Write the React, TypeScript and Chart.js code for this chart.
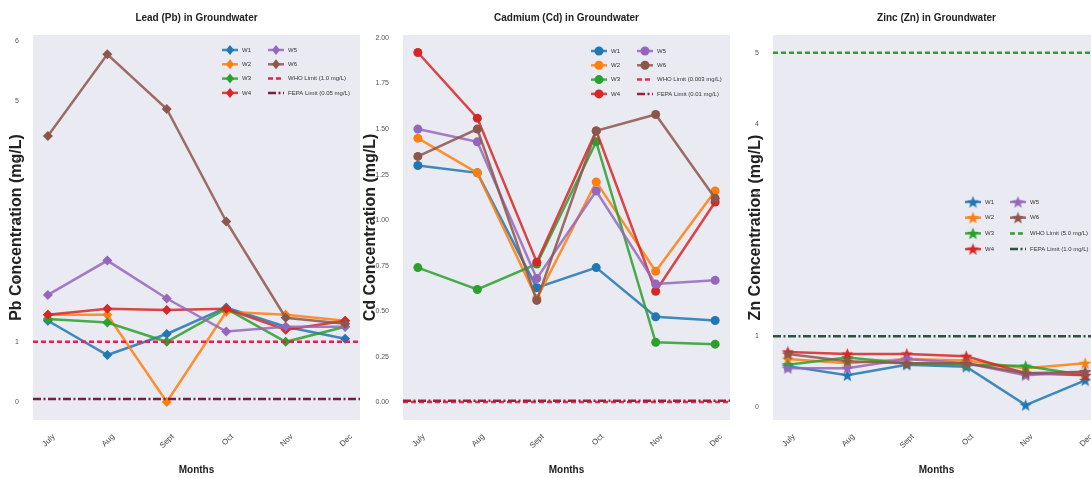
import React, { useEffect, useRef } from 'react';
import { Chart, registerables } from 'chart.js';
Chart.register(...registerables);

// ---------- data ----------
const MONTHS = ['July', 'Aug', 'Sept', 'Oct', 'Nov', 'Dec'];
const WELLS = ['W1', 'W2', 'W3', 'W4', 'W5', 'W6'];
const WELL_COLORS = ['#1f77b4', '#ff7f0e', '#2ca02c', '#d62728', '#9467bd', '#8c564b'];

const pbW1 = [1.35, 0.78, 1.13, 1.57, 1.25, 1.05];
const pbW2 = [1.45, 1.45, 0.0, 1.5, 1.45, 1.35];
const pbW3 = [1.38, 1.32, 1.0, 1.55, 1.0, 1.25];
const pbW4 = [1.45, 1.55, 1.53, 1.55, 1.2, 1.35];
const pbW5 = [1.78, 2.35, 1.72, 1.17, 1.25, 1.25];
const pbW6 = [4.42, 5.78, 4.87, 3.0, 1.4, 1.3];
const PB_WHO = 1.0;
const PB_FEPA = 0.05;
const PB_TICKS = [0, 1, 2, 3, 4, 5, 6];

const cdW1 = [1.3, 1.26, 0.63, 0.74, 0.47, 0.45];
const cdW2 = [1.45, 1.26, 0.57, 1.21, 0.72, 1.16];
const cdW3 = [0.74, 0.62, 0.76, 1.43, 0.33, 0.32];
const cdW4 = [1.92, 1.56, 0.77, 1.49, 0.61, 1.1];
const cdW5 = [1.5, 1.43, 0.68, 1.16, 0.65, 0.67];
const cdW6 = [1.35, 1.5, 0.56, 1.49, 1.58, 1.12];
const CD_WHO = 0.003;
const CD_FEPA = 0.01;
const CD_TICKS = [0, 0.25, 0.5, 0.75, 1.0, 1.25, 1.5, 1.75, 2.0];

const znW1 = [0.58, 0.45, 0.6, 0.57, 0.03, 0.38];
const znW2 = [0.68, 0.62, 0.68, 0.66, 0.55, 0.62];
const znW3 = [0.6, 0.7, 0.62, 0.6, 0.58, 0.45];
const znW4 = [0.78, 0.75, 0.75, 0.72, 0.48, 0.45];
const znW5 = [0.55, 0.55, 0.68, 0.62, 0.45, 0.5];
const znW6 = [0.75, 0.65, 0.62, 0.62, 0.48, 0.5];
const ZN_WHO = 5.0;
const ZN_FEPA = 1.0;
const ZN_TICKS = [0, 1, 2, 3, 4, 5];

const X_MIN = -0.25;
const X_MAX = 5.25;

// ---------- helpers ----------
function makeStar(color: string, size: number): HTMLCanvasElement {
  const c = document.createElement('canvas');
  c.width = size;
  c.height = size;
  const ctx = c.getContext('2d')!;
  const cx = size / 2, cy = size / 2 + 0.5, R = size / 2, r = R * 0.42;
  ctx.beginPath();
  for (let i = 0; i < 10; i++) {
    const a = -Math.PI / 2 + (i * Math.PI) / 5;
    const rad = i % 2 === 0 ? R : r;
    ctx.lineTo(cx + rad * Math.cos(a), cy + rad * Math.sin(a));
  }
  ctx.closePath();
  ctx.fillStyle = color;
  ctx.fill();
  return c;
}

function alpha(hex: string, a: number) {
  const n = parseInt(hex.slice(1), 16);
  return `rgba(${(n >> 16) & 255},${(n >> 8) & 255},${n & 255},${a})`;
}

const bgPlugin = {
  id: 'bgArea',
  beforeDraw(chart: any) {
    const { ctx, chartArea } = chart;
    ctx.save();
    ctx.fillStyle = '#EAEAF2';
    ctx.fillRect(chartArea.left, chartArea.top, chartArea.width, chartArea.height);
    ctx.restore();
  },
};

const panelTitlePlugin = {
  id: 'panelTitle',
  afterDraw(chart: any, _args: any, opts: any) {
    if (!opts || !opts.text) return;
    const { ctx, chartArea } = chart;
    ctx.save();
    ctx.fillStyle = '#222';
    ctx.font = 'bold 10px "Liberation Sans"';
    ctx.textAlign = 'center';
    ctx.textBaseline = 'middle';
    ctx.fillText(opts.text, (chartArea.left + chartArea.right) / 2, opts.y);
    ctx.restore();
  },
};

const gridLegendPlugin = {
  id: 'gridLegend',
  afterDraw(chart: any, _args: any, opts: any) {
    if (!opts || opts.x === undefined) return;
    const ctx = chart.ctx;
    chart.data.datasets.forEach((ds: any, i: number) => {
      const col = Math.floor(i / 4);
      const row = i % 4;
      const cx = opts.x + col * opts.colW;
      const cy = opts.y + row * opts.rowH;
      ctx.save();
      ctx.strokeStyle = ds.borderColor;
      ctx.lineWidth = ds.borderWidth;
      ctx.setLineDash(ds.borderDash || []);
      ctx.beginPath();
      ctx.moveTo(cx - 8, cy);
      ctx.lineTo(cx + 8, cy);
      ctx.stroke();
      ctx.setLineDash([]);
      if (ds.pointRadius > 0) {
        const ps = ds.pointStyle;
        ctx.fillStyle = ds.pointBackgroundColor;
        if (ps === 'rectRot') {
          const r = ds.pointRadius;
          ctx.beginPath();
          ctx.moveTo(cx, cy - r);
          ctx.lineTo(cx + r * 0.8, cy);
          ctx.lineTo(cx, cy + r);
          ctx.lineTo(cx - r * 0.8, cy);
          ctx.closePath();
          ctx.fill();
        } else if (ps === 'circle') {
          ctx.beginPath();
          ctx.arc(cx, cy, ds.pointRadius, 0, Math.PI * 2);
          ctx.fill();
        } else if (ps && ps.width) {
          ctx.drawImage(ps, cx - ps.width / 2, cy - ps.height / 2);
        }
      }
      ctx.fillStyle = '#333';
      ctx.font = '6px "Liberation Sans"';
      ctx.textBaseline = 'middle';
      ctx.textAlign = 'left';
      ctx.fillText(ds.label, cx + 12, cy);
      ctx.restore();
    });
  },
};

type Limit = { label: string; value: number; color: string; dash: number[] };

type PanelCfg = {
  title: string;
  yTitle: string;
  series: number[][];
  limits: Limit[];
  yMin: number;
  yMax: number;
  yTicks: number[];
  tickDigits: number;
  marker: 'rectRot' | 'circle' | 'star';
  markerRadius: number;
  left: number;
  width: number;
  yAxisWidth: number;
  yTitlePad: number;
  legend: { x: number; y: number; colW: number; rowH: number };
};

const PANELS: PanelCfg[] = [
  {
    title: 'Lead (Pb) in Groundwater',
    yTitle: 'Pb Concentration (mg/L)',
    series: [pbW1, pbW2, pbW3, pbW4, pbW5, pbW6],
    limits: [
      { label: 'WHO Limit (1.0 mg/L)', value: PB_WHO, color: '#d62750', dash: [5, 3] },
      { label: 'FEPA Limit (0.05 mg/L)', value: PB_FEPA, color: '#7a1f3d', dash: [8, 2.5, 2, 2.5] },
    ],
    yMin: -0.3,
    yMax: 6.1,
    yTicks: PB_TICKS,
    tickDigits: 0,
    marker: 'rectRot',
    markerRadius: 5,
    left: 0,
    width: 368,
    yAxisWidth: 33,
    yTitlePad: 7,
    legend: { x: 230, y: 50, colW: 46, rowH: 14.3 },
  },
  {
    title: 'Cadmium (Cd) in Groundwater',
    yTitle: 'Cd Concentration (mg/L)',
    series: [cdW1, cdW2, cdW3, cdW4, cdW5, cdW6],
    limits: [
      { label: 'WHO Limit (0.003 mg/L)', value: CD_WHO, color: '#e0304a', dash: [5, 3] },
      { label: 'FEPA Limit (0.01 mg/L)', value: CD_FEPA, color: '#a0203a', dash: [8, 2.5, 2, 2.5] },
    ],
    yMin: -0.096,
    yMax: 2.016,
    yTicks: CD_TICKS,
    tickDigits: 2,
    marker: 'circle',
    markerRadius: 4.5,
    left: 361,
    width: 377,
    yAxisWidth: 42,
    yTitlePad: 0,
    legend: { x: 238, y: 51, colW: 46, rowH: 14.3 },
  },
  {
    title: 'Zinc (Zn) in Groundwater',
    yTitle: 'Zn Concentration (mg/L)',
    series: [znW1, znW2, znW3, znW4, znW5, znW6],
    limits: [
      { label: 'WHO Limit (5.0 mg/L)', value: ZN_WHO, color: '#2ca02c', dash: [5, 3] },
      { label: 'FEPA Limit (1.0 mg/L)', value: ZN_FEPA, color: '#2f4f3f', dash: [8, 2.5, 2, 2.5] },
    ],
    yMin: -0.18,
    yMax: 5.25,
    yTicks: ZN_TICKS,
    tickDigits: 0,
    marker: 'star',
    markerRadius: 6,
    left: 740,
    width: 368,
    yAxisWidth: 33,
    yTitlePad: 6,
    legend: { x: 233, y: 202, colW: 45, rowH: 15.7 },
  },
];

function buildConfig(p: PanelCfg): any {
  const wellSets = p.series.map((vals, i) => {
    const col = WELL_COLORS[i];
    const pointStyle = p.marker === 'star' ? makeStar(col, 13) : p.marker;
    return {
      label: WELLS[i],
      data: vals.map((v, j) => ({ x: j, y: v })),
      borderColor: alpha(col, 0.85),
      backgroundColor: col,
      pointBackgroundColor: col,
      pointBorderColor: col,
      pointBorderWidth: 0,
      borderWidth: 2.5,
      pointStyle,
      pointRadius: p.markerRadius,
      tension: 0,
      order: 20 - i,
    };
  });
  const limitSets = p.limits.map((l, k) => ({
    label: l.label,
    data: [
      { x: X_MIN, y: l.value },
      { x: X_MAX, y: l.value },
    ],
    borderColor: l.color,
    backgroundColor: l.color,
    borderWidth: 2.5,
    borderDash: l.dash,
    pointRadius: 0,
    order: 5 - k,
  }));
  return {
    type: 'line',
    data: { datasets: [...wellSets, ...limitSets] },
    options: {
      animation: false,
      responsive: false,
      events: [],
      layout: { padding: { left: 0, right: 8, top: 35, bottom: 0 } },
      plugins: {
        legend: { display: false },
        tooltip: { enabled: false },
        title: { display: false },
        panelTitle: { text: p.title, y: 18 },
        gridLegend: p.legend,
      },
      scales: {
        x: {
          type: 'linear',
          min: X_MIN,
          max: X_MAX,
          afterBuildTicks: (scale: any) => {
            scale.ticks = MONTHS.map((_, i) => ({ value: i }));
          },
          afterFit: (scale: any) => {
            scale.height = 58;
          },
          grid: { display: false },
          border: { display: false },
          ticks: {
            callback: (v: number) => MONTHS[v] ?? '',
            minRotation: 45,
            maxRotation: 45,
            labelOffset: 6,
            padding: 4,
            color: '#444',
            font: { family: '"Liberation Sans"', size: 8 },
          },
          title: {
            display: true,
            text: 'Months',
            color: '#222',
            font: { family: '"Liberation Sans"', size: 10, weight: 'bold', lineHeight: 1.2 },
            padding: { top: 0, bottom: 2 },
          },
        },
        y: {
          type: 'linear',
          min: p.yMin,
          max: p.yMax,
          afterBuildTicks: (scale: any) => {
            scale.ticks = p.yTicks.map((v) => ({ value: v }));
          },
          afterFit: (scale: any) => {
            scale.width = p.yAxisWidth;
          },
          grid: { display: false },
          border: { display: false },
          ticks: {
            callback: (v: number) => v.toFixed(p.tickDigits),
            padding: 6,
            color: '#555',
            font: { family: '"Liberation Sans"', size: 7 },
          },
          title: {
            display: true,
            text: p.yTitle,
            color: '#222',
            font: { family: '"Liberation Sans"', size: 16, weight: 'bold', lineHeight: 1.2 },
            padding: { top: p.yTitlePad, bottom: 0 },
          },
        },
      },
    },
    plugins: [bgPlugin, panelTitlePlugin, gridLegendPlugin],
  };
}

function Panel({ cfg }: { cfg: PanelCfg }) {
  const ref = useRef<HTMLCanvasElement | null>(null);
  useEffect(() => {
    if (!ref.current) return;
    const chart = new Chart(ref.current, buildConfig(cfg));
    return () => chart.destroy();
  }, [cfg]);
  return (
    <canvas
      ref={ref}
      width={cfg.width}
      height={478}
      style={{ position: 'absolute', left: cfg.left, top: 0, width: cfg.width, height: 478 }}
    />
  );
}

export default function App() {
  return (
    <div
      style={{
        position: 'fixed',
        left: 0,
        top: 0,
        width: 1091,
        height: 478,
        overflow: 'hidden',
        background: '#ffffff',
      }}
    >
      {PANELS.map((p) => (
        <Panel key={p.title} cfg={p} />
      ))}
    </div>
  );
}
